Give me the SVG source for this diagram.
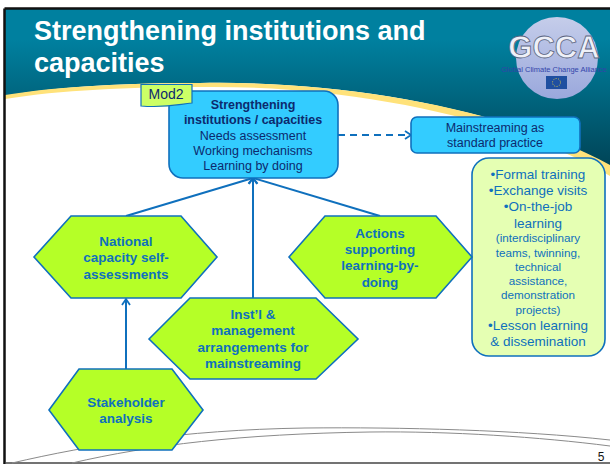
<svg xmlns="http://www.w3.org/2000/svg" width="610" height="464" viewBox="0 0 610 464">
<style>
text{font-family:"Liberation Sans",Arial,sans-serif;text-anchor:middle}
.hex{fill:#b5ff27;stroke:#0f70bd;stroke-width:1.6}
.ht{font-size:13.5px;font-weight:bold;fill:#0f70bd}
.bt{font-size:12.5px;fill:#0c2a6e}
.bb{font-weight:bold}
.gt{font-size:13.5px;fill:#0f70bd}
.gs{font-size:11.7px;fill:#0f70bd}
.con{fill:none;stroke:#0f70bd;stroke-width:2}
.sw{fill:none;stroke:#8a8a8a;stroke-width:1}
</style>
<defs>
<linearGradient id="hdr" gradientUnits="userSpaceOnUse" x1="0" y1="40" x2="0" y2="165">
<stop offset="0" stop-color="#00809f"/><stop offset="1" stop-color="#004558"/>
</linearGradient>
<linearGradient id="globe" x1="0" y1="0" x2="0" y2="1">
<stop offset="0" stop-color="#c5cdea"/><stop offset="1" stop-color="#9aa8dc"/>
</linearGradient>
<marker id="arr" markerWidth="12" markerHeight="12" refX="9" refY="6" orient="auto" markerUnits="userSpaceOnUse">
<path d="M3 2L9 6L3 10" fill="none" stroke="#0f70bd" stroke-width="1.8"/>
</marker>
</defs>
<rect width="610" height="464" fill="#fff"/>
<path id="header" d="M5 9H610V166C520 115 360 80 200 83C130 83 60 86 5 96Z" fill="url(#hdr)"/>
<path id="band" d="M5 95C60 86 130 83 200 83C360 80 520 115 610 165V176C520 122 360 85 200 87C130 87 60 90 5 99Z" fill="#ffe27a"/>
<path d="M4.500 8.500H610M4.500 8.500V464" fill="none" stroke="#111" stroke-width="2.500"/>
<path d="M5 463H610" stroke="#444" stroke-width="1.500"/>
<path class="sw" d="M12 463C90 445 180 430 305 428C400 427 520 430 610 440"/>
<path class="sw" d="M72 463C150 445 240 434 370 432C450 431 540 437 610 446"/>
<text x="34" y="40" style="text-anchor:start;font-size:27px;font-weight:bold;fill:#fff">Strengthening institutions and</text>
<text x="34" y="72" style="text-anchor:start;font-size:27px;font-weight:bold;fill:#fff">capacities</text>
<g id="logo">
<circle cx="557" cy="58" r="41" fill="url(#globe)"/>
<text x="554" y="58" style="font-size:31px;font-weight:bold;fill:#eef0f8;stroke:#5a6480;stroke-width:0.800">GCCA</text>
<text x="554" y="72" style="font-size:7.500px;fill:#3344aa">Global Climate Change Alliance</text>
<rect x="546" y="76" width="21" height="13" fill="#1f4fa0"/>
<circle cx="556.500" cy="82.500" r="4" fill="none" stroke="#d9c94a" stroke-width="1" stroke-dasharray="1 1.500"/>
</g>
<g id="connectors">
<path class="con" d="M126 216L253 178" marker-end="url(#arr)"/>
<path class="con" d="M253 298V178" marker-end="url(#arr)"/>
<path class="con" d="M380 216L253 178" marker-end="url(#arr)"/>
<path class="con" d="M126 369V299" marker-end="url(#arr)"/>
<path class="con" d="M338 135H411" stroke-dasharray="7 5" marker-end="url(#arr)"/>
</g>
<g id="main">
<rect x="169" y="91" width="169" height="87" rx="14" fill="#33ccff" stroke="#0f70bd" stroke-width="1.600"/>
<text class="bt bb" x="253" y="109">Strengthening</text>
<text class="bt bb" x="253" y="124">institutions / capacities</text>
<text class="bt" x="253" y="140">Needs assessment</text>
<text class="bt" x="253" y="155">Working mechanisms</text>
<text class="bt" x="253" y="170">Learning by doing</text>
</g>
<g id="mod2">
<path d="M141 84.500H192V103C175 105 165 108 141 106Z" fill="#ccff66" stroke="#0f70bd" stroke-width="1.200"/>
<text x="166" y="99" style="font-size:14px;fill:#0c2a6e">Mod2</text>
</g>
<g id="mainstream">
<rect x="411" y="117" width="169" height="36" rx="6" fill="#33ccff" stroke="#0f70bd" stroke-width="1.600"/>
<text class="bt" x="495" y="132">Mainstreaming as</text>
<text class="bt" x="495" y="147">standard practice</text>
</g>
<g id="list">
<rect x="472" y="158" width="133" height="198" rx="17" fill="#e5ffb3" stroke="#0f70bd" stroke-width="1.600"/>
<text class="gt" x="538" y="179">•Formal training</text>
<text class="gt" x="538" y="195">•Exchange visits</text>
<text class="gt" x="538" y="211">•On-the-job</text>
<text class="gt" x="538" y="228">learning</text>
<text class="gs" x="538" y="242">(interdisciplinary</text>
<text class="gs" x="538" y="257">teams, twinning,</text>
<text class="gs" x="538" y="271">technical</text>
<text class="gs" x="538" y="285">assistance,</text>
<text class="gs" x="538" y="299">demonstration</text>
<text class="gs" x="538" y="314">projects)</text>
<text class="gt" x="538" y="330">•Lesson learning</text>
<text class="gt" x="538" y="346">&amp; dissemination</text>
</g>
<g id="national">
<polygon class="hex" points="34,257 71,216 181,216 217,257 181,298 71,298"/>
<text class="ht" x="126" y="246">National</text>
<text class="ht" x="126" y="262">capacity self-</text>
<text class="ht" x="126" y="279">assessments</text>
</g>
<g id="actions">
<polygon class="hex" points="289,257 325,216 436,216 472,257 436,298 325,298"/>
<text class="ht" x="380" y="238">Actions</text>
<text class="ht" x="380" y="254">supporting</text>
<text class="ht" x="380" y="270">learning-by-</text>
<text class="ht" x="380" y="287">doing</text>
</g>
<g id="inst">
<polygon class="hex" points="149,339 190,298 316,298 358,339 316,379 190,379"/>
<text class="ht" x="253" y="319">Inst’l &amp;</text>
<text class="ht" x="253" y="335">management</text>
<text class="ht" x="253" y="352">arrangements for</text>
<text class="ht" x="253" y="368">mainstreaming</text>
</g>
<g id="stakeholder">
<polygon class="hex" points="49,410 79,369 172,369 203,410 172,450 79,450"/>
<text class="ht" x="126" y="407">Stakeholder</text>
<text class="ht" x="126" y="423">analysis</text>
</g>
<text x="601" y="461" style="font-size:12px;fill:#111">5</text>
</svg>
